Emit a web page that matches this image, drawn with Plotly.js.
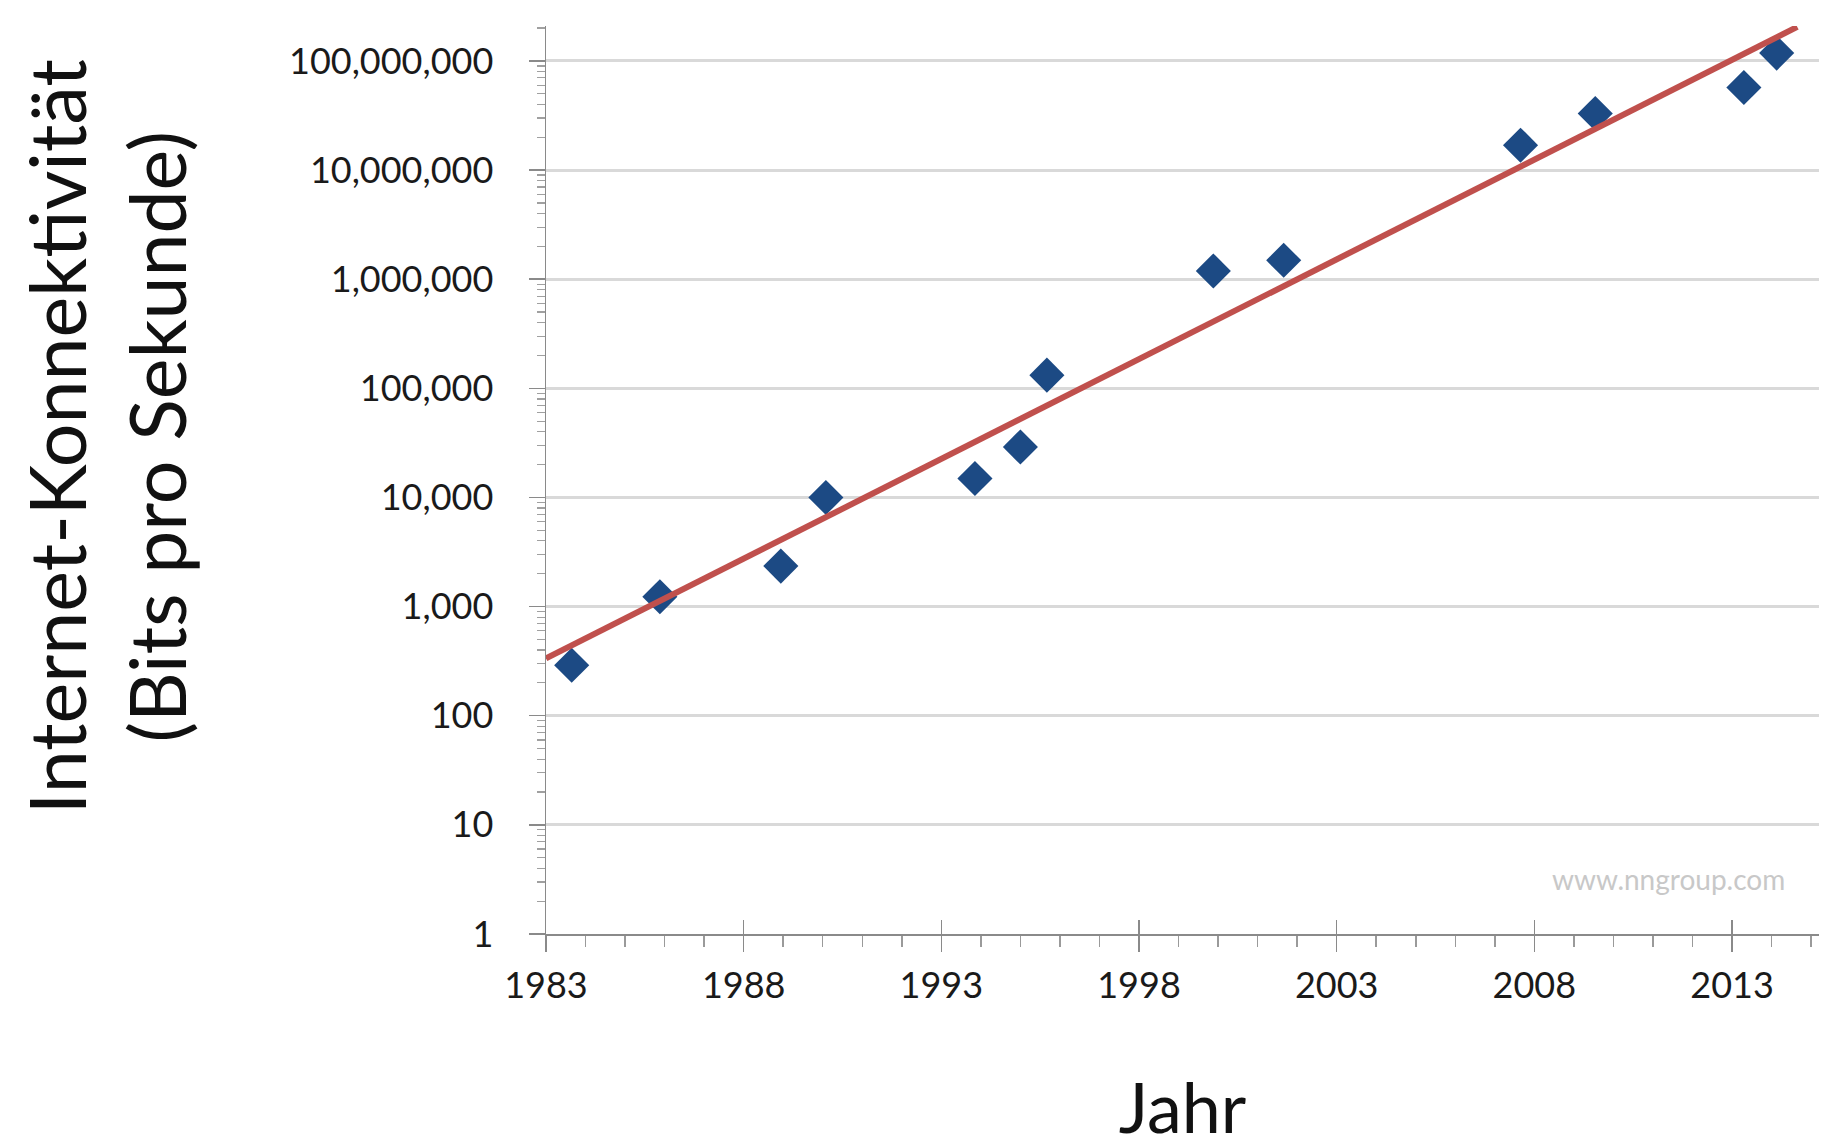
<!DOCTYPE html>
<html>
<head>
<meta charset="utf-8">
<script src="https://cdn.plot.ly/plotly-3.0.1.min.js"></script>
<style>
  html, body { margin: 0; padding: 0; background: #ffffff; }
  #chart { width: 1826px; height: 1148px; }
</style>
</head>
<body>
<div id="chart"></div>
<script>
// ---- data ----
const years = [1983.65, 1985.88, 1988.94, 1990.08, 1993.85, 1995.0, 1995.67, 1999.88, 2001.66, 2007.65, 2009.54, 2013.3, 2014.13];
const bitsPerSecond = [290, 1230, 2350, 10000, 14900, 29000, 132000, 1190000, 1490000, 16900000, 33000000, 57000000, 118000000];
const trendYears = [1983, 2014.65];
const trendValues = [335, 205000000];
const xTickYears = [1983, 1988, 1993, 1998, 2003, 2008, 2013];
const yTickValues = [1, 10, 100, 1000, 10000, 100000, 1000000, 10000000, 100000000];
const yTickLabels = ['1', '10', '100', '1,000', '10,000', '100,000', '1,000,000', '10,000,000', '100,000,000'];
const yTitleLines = ['Internet-Konnektivität', '(Bits pro Sekunde)'];
const xTitle = 'Jahr';
const watermark = 'www.nngroup.com';

const FONT = 'Lato, "Open Sans", sans-serif';

const traces = [
  {
    x: years, y: bitsPerSecond,
    type: 'scatter', mode: 'markers',
    marker: { symbol: 'diamond', size: 27, color: '#1c4a84', line: { width: 0 } },
    showlegend: false, hoverinfo: 'x+y'
  },
  {
    x: trendYears, y: trendValues,
    type: 'scatter', mode: 'lines',
    line: { color: '#c0504d', width: 6 },
    showlegend: false, hoverinfo: 'skip'
  },
  {
    x: [], y: [], xaxis: 'x2', yaxis: 'y',
    type: 'scatter', mode: 'markers', showlegend: false, hoverinfo: 'skip'
  }
];

const layout = {
  width: 1826, height: 1148,
  paper_bgcolor: '#ffffff', plot_bgcolor: '#ffffff',
  margin: { l: 546, r: 7, t: 26, b: 214, pad: 0 },
  font: { family: FONT, color: '#222222', size: 36 },
  showlegend: false,
  xaxis: {
    range: [1983, 2015.2],
    tickmode: 'array', tickvals: xTickYears,
    ticks: 'outside', ticklen: 16, tickwidth: 1.5, tickcolor: '#8a8a8a',
    minor: { tickmode: 'linear', tick0: 1983, dtick: 1, ticks: 'outside', ticklen: 11, tickwidth: 1.5, tickcolor: '#9a9a9a', showgrid: false },
    showgrid: false, zeroline: false,
    showline: true, linecolor: '#8a8a8a', linewidth: 1.5,
    tickfont: { family: FONT, size: 36, color: '#1a1a1a' },
    ticklabelstandoff: 3,
    title: { text: xTitle, font: { family: FONT, size: 70, color: '#111111' }, standoff: 100 },
    automargin: false, fixedrange: true
  },
  xaxis2: {
    overlaying: 'x', anchor: 'y', matches: 'x',
    range: [1983, 2015.2],
    tickmode: 'array', tickvals: xTickYears,
    ticks: 'inside', ticklen: 14, tickwidth: 1.5, tickcolor: '#8a8a8a',
    showticklabels: false, showgrid: false, zeroline: false, showline: false,
    side: 'bottom', automargin: false
  },
  yaxis: {
    type: 'log',
    range: [0, 8.32],
    tickmode: 'array', tickvals: yTickValues, ticktext: yTickLabels,
    ticks: 'outside', ticklen: 16, tickwidth: 1.5, tickcolor: '#8a8a8a',
    minor: { tickmode: 'linear', dtick: 'D1', ticks: 'outside', ticklen: 8, tickwidth: 1.2, tickcolor: '#a0a0a0', showgrid: false },
    showgrid: true, gridcolor: '#d9d9d9', gridwidth: 3,
    zeroline: false,
    showline: true, linecolor: '#8a8a8a', linewidth: 1.5,
    tickfont: { family: FONT, size: 36, color: '#1a1a1a' },
    ticklabelstandoff: 28,
    automargin: false, fixedrange: true
  },
  annotations: [
    {
      text: yTitleLines.join('<br>'),
      xref: 'paper', yref: 'paper',
      x: 0, xshift: -440, y: 0.547,
      xanchor: 'center', yanchor: 'middle',
      textangle: -90, align: 'center', showarrow: false,
      font: { family: FONT, size: 77, color: '#111111' }
    },
    {
      text: watermark,
      xref: 'paper', yref: 'paper',
      x: 0.975, y: 0.0606,
      xanchor: 'right', yanchor: 'middle',
      showarrow: false,
      font: { family: FONT, size: 28, color: '#c8c8c8' }
    }
  ]
};

Plotly.newPlot('chart', traces, layout, { displayModeBar: false, staticPlot: true });
</script>
</body>
</html>
